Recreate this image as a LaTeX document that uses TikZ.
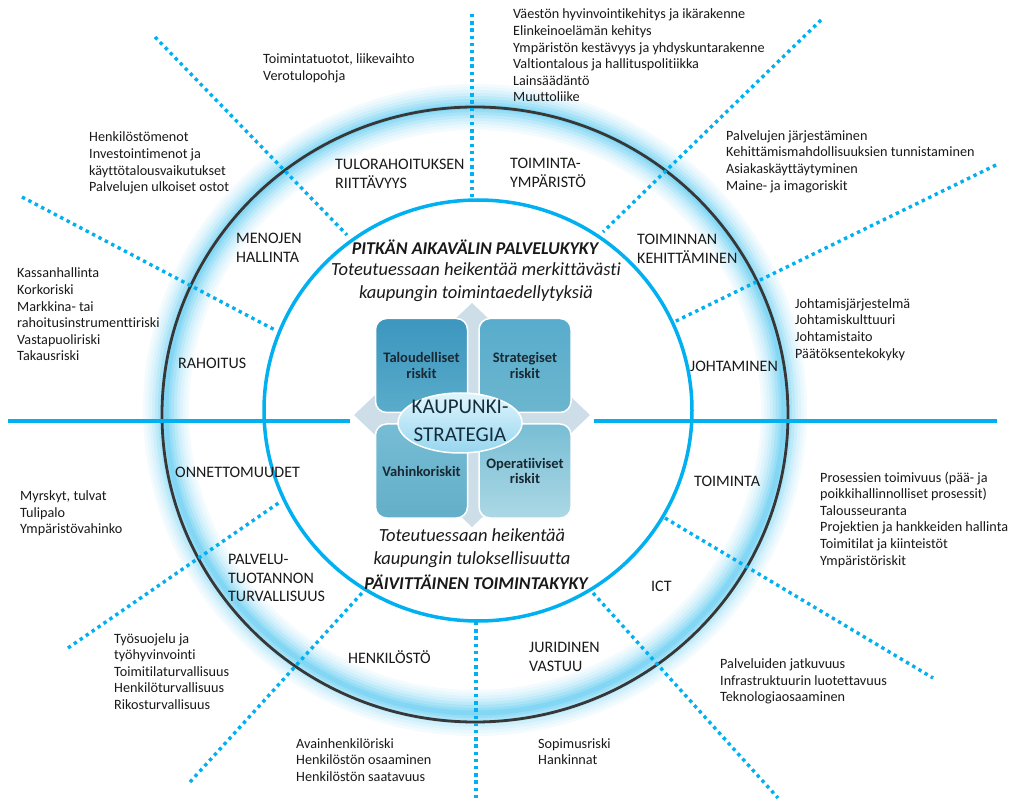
\documentclass[tikz,border=0pt]{standalone}
\usepackage{fontspec}
\setmainfont{Carlito}[Ligatures=NoCommon]
\definecolor{skyblue}{RGB}{0,176,240}
\definecolor{ringgray}{RGB}{55,55,55}
\definecolor{glowblue}{RGB}{100,205,242}
\definecolor{textgray}{RGB}{25,25,25}
\definecolor{diamondgray}{RGB}{205,222,232}
\definecolor{quadtext}{RGB}{25,40,50}
\definecolor{navytext}{RGB}{20,45,60}

\begin{document}
\begin{tikzpicture}[x=1pt, y=-1pt,
  sector/.style={anchor=west, align=left, inner sep=0pt, text=textgray, font=\fontsize{16}{18.5}\selectfont},
  risklist/.style={anchor=west, align=left, inner sep=0pt, text=textgray, font=\fontsize{14.2}{16.6}\selectfont},
  divider/.style={skyblue, line width=3.4pt, dash pattern=on 3.4pt off 3.8pt},
  quad/.style={draw=white, line width=1.5pt, rounded corners=11pt, minimum width=92pt, minimum height=94pt,
    text=quadtext, align=center, font=\fontsize{14.5}{15.5}\selectfont\bfseries},
  bigitalic/.style={align=center, text=textgray, font=\fontsize{18.5}{22.5}\selectfont\itshape}]

\useasboundingbox (0,0) rectangle (1013,802);

% halo round the outer ring
\foreach \w/\c in {46/7,40/14,34/22,28/32,22/43,16/55,10/68,5/80}
  \draw[glowblue!\c, line width=\w pt] (475,410) ellipse [x radius=309pt, y radius=303pt];

\draw[ringgray, line width=2.8pt] (475,414.5) ellipse [x radius=313pt, y radius=307.5pt];
\draw[skyblue, line width=3.5pt] (478,410.5) ellipse [x radius=214pt, y radius=210.5pt];

\draw[skyblue, line width=4pt] (8,421) -- (350,421);
\draw[skyblue, line width=4pt] (594,421) -- (997,421);

\draw[divider] (472,14) -- (472,199);
\draw[divider] (155,37) -- (347,235);
\draw[divider] (22,197) -- (275,330);
\draw[divider] (68,648) -- (280,502);
\draw[divider] (190,782) -- (362,593);
\draw[divider] (476,622) -- (476,800);
\draw[divider] (593,593) -- (778,798);
\draw[divider] (665,518) -- (933,678);
\draw[divider] (996,165) -- (674,322);
\draw[divider] (821,20) -- (603,232);

% strategy core
\fill[diamondgray] (472,303) -- (590,415) -- (472,527) -- (354,415) -- cycle;
\node[quad, top color={rgb,255:red,60;green,150;blue,190}, bottom color={rgb,255:red,90;green,172;blue,202}] (talous) at (421.5,365.5) {Taloudelliset\\riskit};
\node[quad, top color={rgb,255:red,88;green,172;blue,204}, bottom color={rgb,255:red,108;green,182;blue,206}] (strateg) at (525,365.5) {Strategiset\\riskit};
\node[quad, top color={rgb,255:red,118;green,188;blue,212}, bottom color={rgb,255:red,100;green,175;blue,200}] (vahinko) at (421.5,471) {Vahinkoriskit};
\node[quad, top color={rgb,255:red,120;green,190;blue,212}, bottom color={rgb,255:red,172;green,216;blue,229}] (operat) at (525,471) {Operatiiviset\\riskit};
\shade[top color={rgb,255:red,225;green,245;blue,252}, bottom color={rgb,255:red,150;green,214;blue,240}, draw=white, line width=1.5pt]
  (460,423) ellipse [x radius=62pt, y radius=30pt];
\node[align=center, inner sep=0pt, text=navytext, font=\fontsize{21}{28}\selectfont] (strategia) at (460,421) {KAUPUNKI-\\STRATEGIA};

\node[bigitalic, font=\fontsize{18}{22}\selectfont\bfseries\itshape] (pitka) at (475,247) {PITKÄN AIKAVÄLIN PALVELUKYKY};
\node[bigitalic] (pitkavaikutus) at (476,282) {Toteutuessaan heikentää merkittävästi\\kaupungin toimintaedellytyksiä};
\node[bigitalic] (paivavaikutus) at (472,548) {Toteutuessaan heikentää\\kaupungin tuloksellisuutta};
\node[bigitalic, font=\fontsize{18}{22}\selectfont\bfseries\itshape] (paiva) at (476,582) {PÄIVITTÄINEN TOIMINTAKYKY};

% sectors
\node[sector] (tulo) at (335,174) {TULORAHOITUKSEN\\RIITTÄVYYS};
\node[sector] (ympar) at (510,173) {TOIMINTA-\\YMPÄRISTÖ};
\node[sector] (kehit) at (637,249) {TOIMINNAN\\KEHITTÄMINEN};
\node[sector] (johto) at (690,366) {JOHTAMINEN};
\node[sector] (toimi) at (694,481) {TOIMINTA};
\node[sector] (ict) at (651,586) {ICT};
\node[sector] (juri) at (529,657) {JURIDINEN\\VASTUU};
\node[sector] (henk) at (348,657) {HENKILÖSTÖ};
\node[sector] (palv) at (228,578) {PALVELU-\\TUOTANNON\\TURVALLISUUS};
\node[sector] (onnet) at (175,472) {ONNETTOMUUDET};
\node[sector] (rahoi) at (178,363) {RAHOITUS};
\node[sector] (menot) at (236,248) {MENOJEN\\HALLINTA};

% risk lists
\node[risklist] (tulolista) at (263,68.5) {Toimintatuotot, liikevaihto\\Verotulopohja};
\node[risklist] (menolista) at (89,163) {Henkilöstömenot\\Investointimenot ja\\käyttötalousvaikutukset\\Palvelujen ulkoiset ostot};
\node[risklist] (ymparlista) at (513,55.5) {Väestön hyvinvointikehitys ja ikärakenne\\Elinkeinoelämän kehitys\\Ympäristön kestävyys ja yhdyskuntarakenne\\Valtiontalous ja hallituspolitiikka\\Lainsäädäntö\\Muuttoliike};
\node[risklist] (kehitlista) at (726,161.5) {Palvelujen järjestäminen\\Kehittämismahdollisuuksien tunnistaminen\\Asiakaskäyttäytyminen\\Maine- ja imagoriskit};
\node[risklist] (rahoilista) at (17,314.5) {Kassanhallinta\\Korkoriski\\Markkina- tai\\rahoitusinstrumenttiriski\\Vastapuoliriski\\Takausriski};
\node[risklist] (johtolista) at (795,329.5) {Johtamisjärjestelmä\\Johtamiskulttuuri\\Johtamistaito\\Päätöksentekokyky};
\node[risklist] (onnetlista) at (20,513.5) {Myrskyt, tulvat\\Tulipalo\\Ympäristövahinko};
\node[risklist] (palvlista) at (114,671.5) {Työsuojelu ja\\työhyvinvointi\\Toimitilaturvallisuus\\Henkilöturvallisuus\\Rikosturvallisuus};
\node[risklist] (henklista) at (296,760) {Avainhenkilöriski\\Henkilöstön osaaminen\\Henkilöstön saatavuus};
\node[risklist] (jurilista) at (538,751.5) {Sopimusriski\\Hankinnat};
\node[risklist] (ictlista) at (720,681.5) {Palveluiden jatkuvuus\\Infrastruktuurin luotettavuus\\Teknologiaosaaminen};
\node[risklist] (toimilista) at (820,519.5) {Prosessien toimivuus (pää- ja\\poikkihallinnolliset prosessit)\\Talousseuranta\\Projektien ja hankkeiden hallinta\\Toimitilat ja kiinteistöt\\Ympäristöriskit};

\end{tikzpicture}
\end{document}
